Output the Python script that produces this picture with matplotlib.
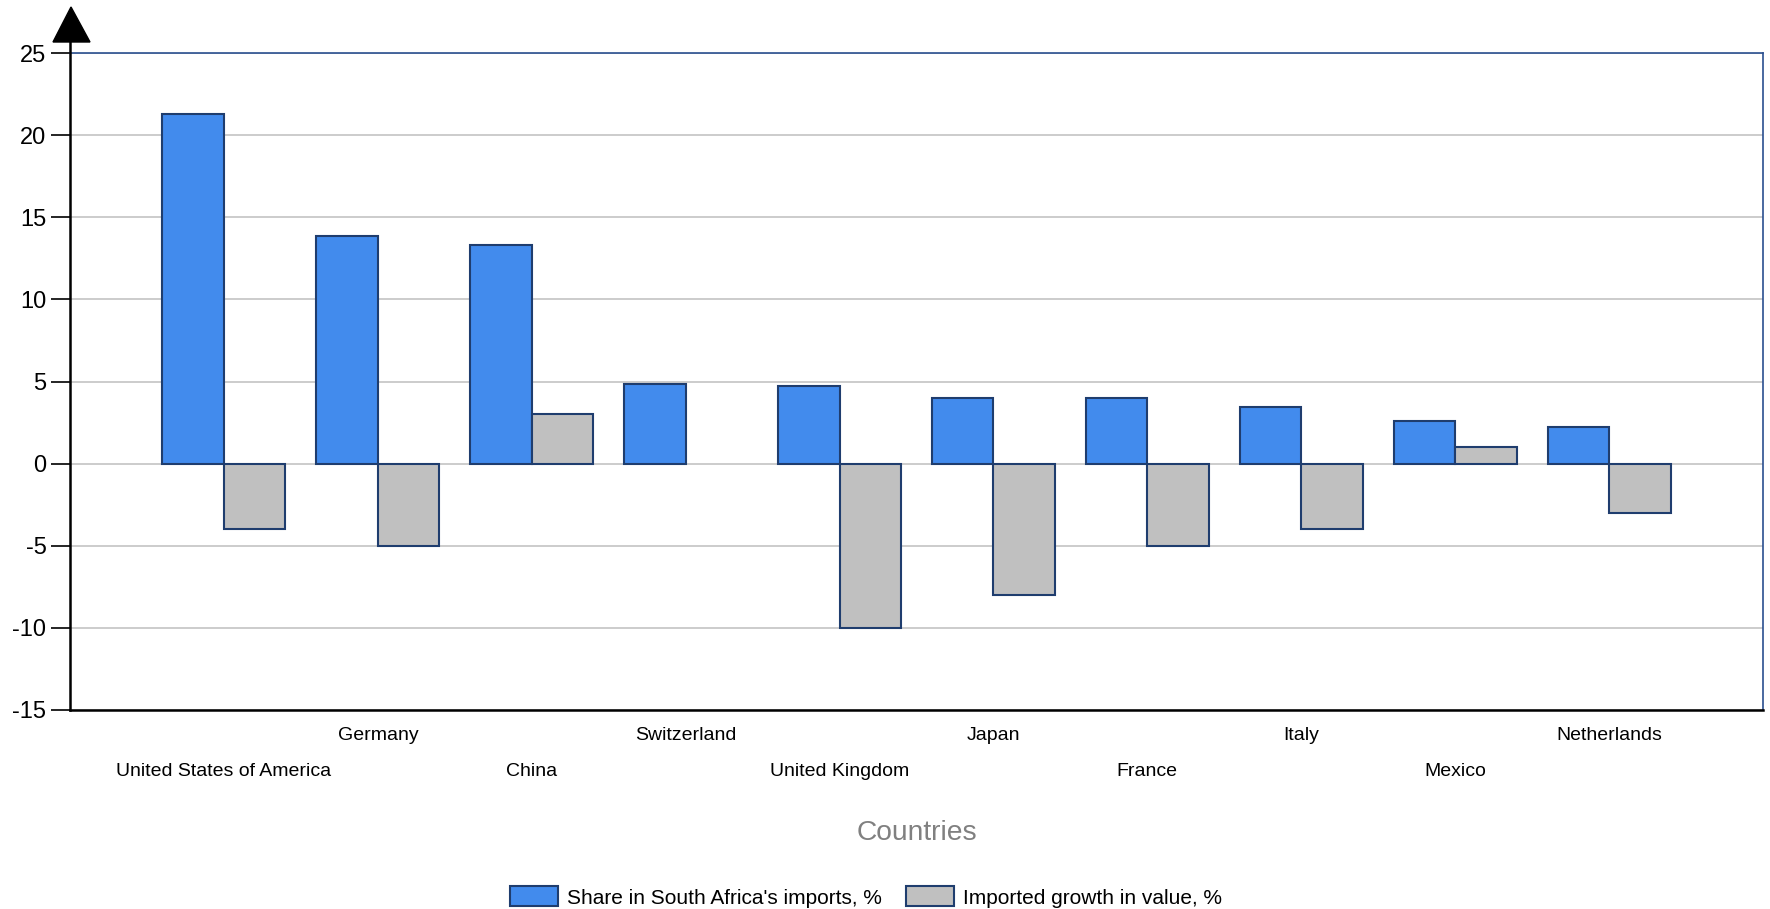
import numpy as np
import matplotlib
matplotlib.use("Agg")
import matplotlib.pyplot as plt
from matplotlib.patches import Patch, Polygon

plt.rcParams['font.family'] = ['Liberation Sans', 'DejaVu Sans']

# chart data
countries = ['United States of America', 'Germany', 'China', 'Switzerland', 'United Kingdom',
             'Japan', 'France', 'Italy', 'Mexico', 'Netherlands']
share = [21.3, 13.85, 13.3, 4.87, 4.75, 4.0, 4.0, 3.43, 2.57, 2.24]
growth = [-4, -5, 3, np.nan, -10, -8, -5, -4, 1, -3]
yticks = [-15, -10, -5, 0, 5, 10, 15, 20, 25]

blue = '#428bed'
grey = '#c0c0c0'
edge = '#1f3d6e'
frame = '#2a4f8f'

W, H = 1770, 909
fig = plt.figure(figsize=(W / 100, H / 100), dpi=100)
ax = fig.add_axes([70 / W, 1 - 710 / H, (1763 - 70) / W, (710 - 53) / H])

x = np.arange(1, len(countries) + 1)
w = 0.4
ax.bar(x - w / 2, share, w, color=blue, edgecolor=edge, linewidth=1.5, zorder=3,
       label="Share in South Africa's imports, %")
ax.bar(x + w / 2, growth, w, color=grey, edgecolor=edge, linewidth=1.5, zorder=3,
       label='Imported growth in value, %')

ax.set_xlim(0, len(countries) + 1)
ax.set_ylim(-15, 25)
ax.set_yticks(yticks)
ax.set_yticklabels([str(t) for t in yticks], fontsize=17)
ax.set_xticks([])
ax.tick_params(axis='y', direction='out', length=13.5, width=1.2, pad=3.5, colors='black')

ax.grid(axis='y', color='#c8c8c8', linewidth=1.3, zorder=0)
ax.set_axisbelow(True)

for s in ['top', 'right']:
    ax.spines[s].set_color(frame)
    ax.spines[s].set_linewidth(1.2)
ax.spines['bottom'].set_color('black')
ax.spines['bottom'].set_linewidth(1.8)
ax.spines['left'].set_visible(False)

# left axis line running up into the arrow head
ax.plot([0, 0], [0, 1 + 11 / 657], transform=ax.transAxes, color='black', lw=1.8,
        clip_on=False, zorder=5)
arrow = Polygon([(71 / W, 1 - 7 / H), (53 / W, 1 - 42 / H), (90 / W, 1 - 42 / H)],
                closed=True, transform=fig.transFigure, facecolor='black',
                edgecolor='black', linewidth=1)
fig.add_artist(arrow)

# staggered country labels
trans = ax.get_xaxis_transform()
for i, name in enumerate(countries):
    yy = -26 / 657 if i % 2 == 1 else -62 / 657
    ax.text(x[i], yy, name, transform=trans, ha='center', va='center', fontsize=14,
            color='black')

ax.text(0.5, -(833 - 710) / 657, 'Countries', transform=ax.transAxes, ha='center',
        va='center', fontsize=20.3, color='#808080')

handles = [Patch(facecolor=blue, edgecolor=edge, linewidth=1.5),
           Patch(facecolor=grey, edgecolor=edge, linewidth=1.5)]
fig.legend(handles, ["Share in South Africa's imports, %", 'Imported growth in value, %'],
           loc='center', bbox_to_anchor=(866 / W, 1 - 897 / H), ncol=2, frameon=False,
           prop={'size': 15}, handlelength=2.3, handleheight=1.1, handletextpad=0.4,
           columnspacing=1.2)

fig.savefig('out.png', dpi=100)
